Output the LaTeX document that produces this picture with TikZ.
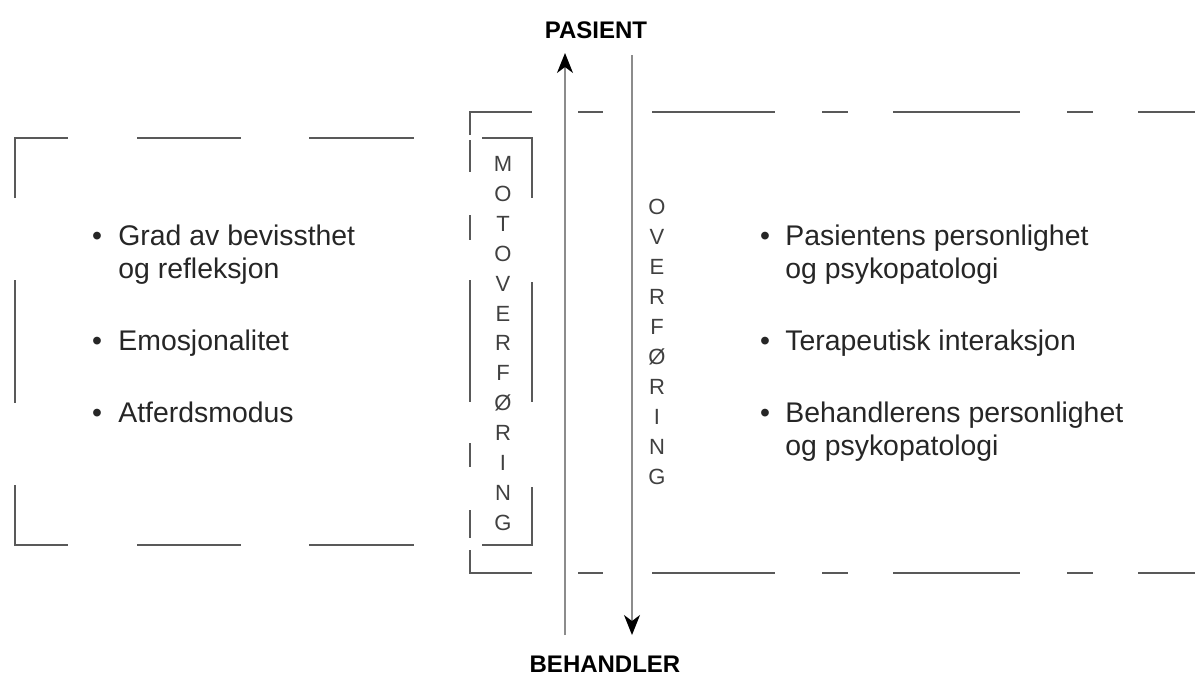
\documentclass[tikz,border=0pt]{standalone}
\usepackage{fontspec}
\setmainfont{Liberation Sans}
\usetikzlibrary{positioning,arrows.meta}
\definecolor{linegray}{gray}{0.35}
\definecolor{axisgray}{gray}{0.55}
\definecolor{lettergray}{gray}{0.25}
\definecolor{textgray}{gray}{0.15}
\tikzset{
  boxline/.style={line width=1.2pt, draw=linegray},
  axisline/.style={line width=0.75pt, draw=axisgray},
  tiphead/.style={-{Stealth[length=10pt,width=8pt,inset=3pt,color=black]}},
  item/.style={anchor=base west, inner sep=0pt, align=left, text=textgray,
    font=\fontsize{14.2}{16.5}\selectfont},
  dot/.style={anchor=base, inner sep=0pt, text=textgray,
    font=\fontsize{14.2}{16.5}\selectfont},
  vletter/.style={inner sep=0pt, text=lettergray, font=\fontsize{11}{12}\selectfont},
  pole/.style={anchor=base, inner sep=0pt, font=\bfseries\fontsize{12}{14}\selectfont}
}
\begin{document}
\begin{tikzpicture}[x=0.5pt,y=-0.5pt]
    \useasboundingbox (0,0) rectangle (1195,677);
    % left box
    \draw[boxline] (15,198) -- (15,138) -- (68,138);
    \draw[boxline] (482,138) -- (532,138) -- (532,198);
    \draw[boxline] (15,485) -- (15,545) -- (68,545);
    \draw[boxline] (482,545) -- (532,545) -- (532,487);
    \foreach \a/\b in {137/241,309/414} {
        \draw[boxline] (\a,138) -- (\b,138);
        \draw[boxline] (\a,545) -- (\b,545);
    }
    \draw[boxline] (15,280) -- (15,403);
    \draw[boxline] (532,282) -- (532,402);
    % right box
    \draw[boxline] (470,135) -- (470,112) -- (532,112);
    \draw[boxline] (470,550) -- (470,573) -- (532,573);
    \foreach \a/\b in {578/603,652/775,822/848,893/1020,1067/1093,1138/1196} {
        \draw[boxline] (\a,112) -- (\b,112);
        \draw[boxline] (\a,573) -- (\b,573);
    }
    \foreach \a/\b in {140/172,215/240,280/402,443/467,510/538}
        \draw[boxline] (470,\a) -- (470,\b);

    \node[pole] (pasient) at (596,38) {PASIENT};
    \node[pole] (behandler) at (605,672) {BEHANDLER};
    \coordinate (upfoot) at (565,635);
    \coordinate (uphead) at (565,53);
    \coordinate (downfoot) at (632,55);
    \coordinate (downhead) at (632,635);
    \draw[axisline,tiphead] (upfoot) -- (uphead);
    \draw[axisline,tiphead] (downfoot) -- (downhead);

    \foreach \l [count=\i] in {M,O,T,O,V,E,R,F,Ø,R,I,N,G}
        \node[vletter] (mot\i) at (503,{164+29.9*(\i-1)}) {\l};
    \foreach \l [count=\i] in {O,V,E,R,F,Ø,R,I,N,G}
        \node[vletter] (over\i) at (657,{207+30*(\i-1)}) {\l};

    \node[dot] (ldot1) at (97,245) {•};
    \node[item] (grad) at (118,278) {Grad av bevissthet\\og refleksjon};
    \node[dot] (ldot2) at (97,350) {•};
    \node[item] (emo) at (118,350) {Emosjonalitet};
    \node[dot] (ldot3) at (97,422) {•};
    \node[item] (atf) at (118,422) {Atferdsmodus};

    \node[dot] (rdot1) at (765,245) {•};
    \node[item] (pas) at (785,278) {Pasientens personlighet\\og psykopatologi};
    \node[dot] (rdot2) at (765,350) {•};
    \node[item] (ter) at (785,350) {Terapeutisk interaksjon};
    \node[dot] (rdot3) at (765,422) {•};
    \node[item] (beh) at (785,455) {Behandlerens personlighet\\og psykopatologi};
\end{tikzpicture}
\end{document}
